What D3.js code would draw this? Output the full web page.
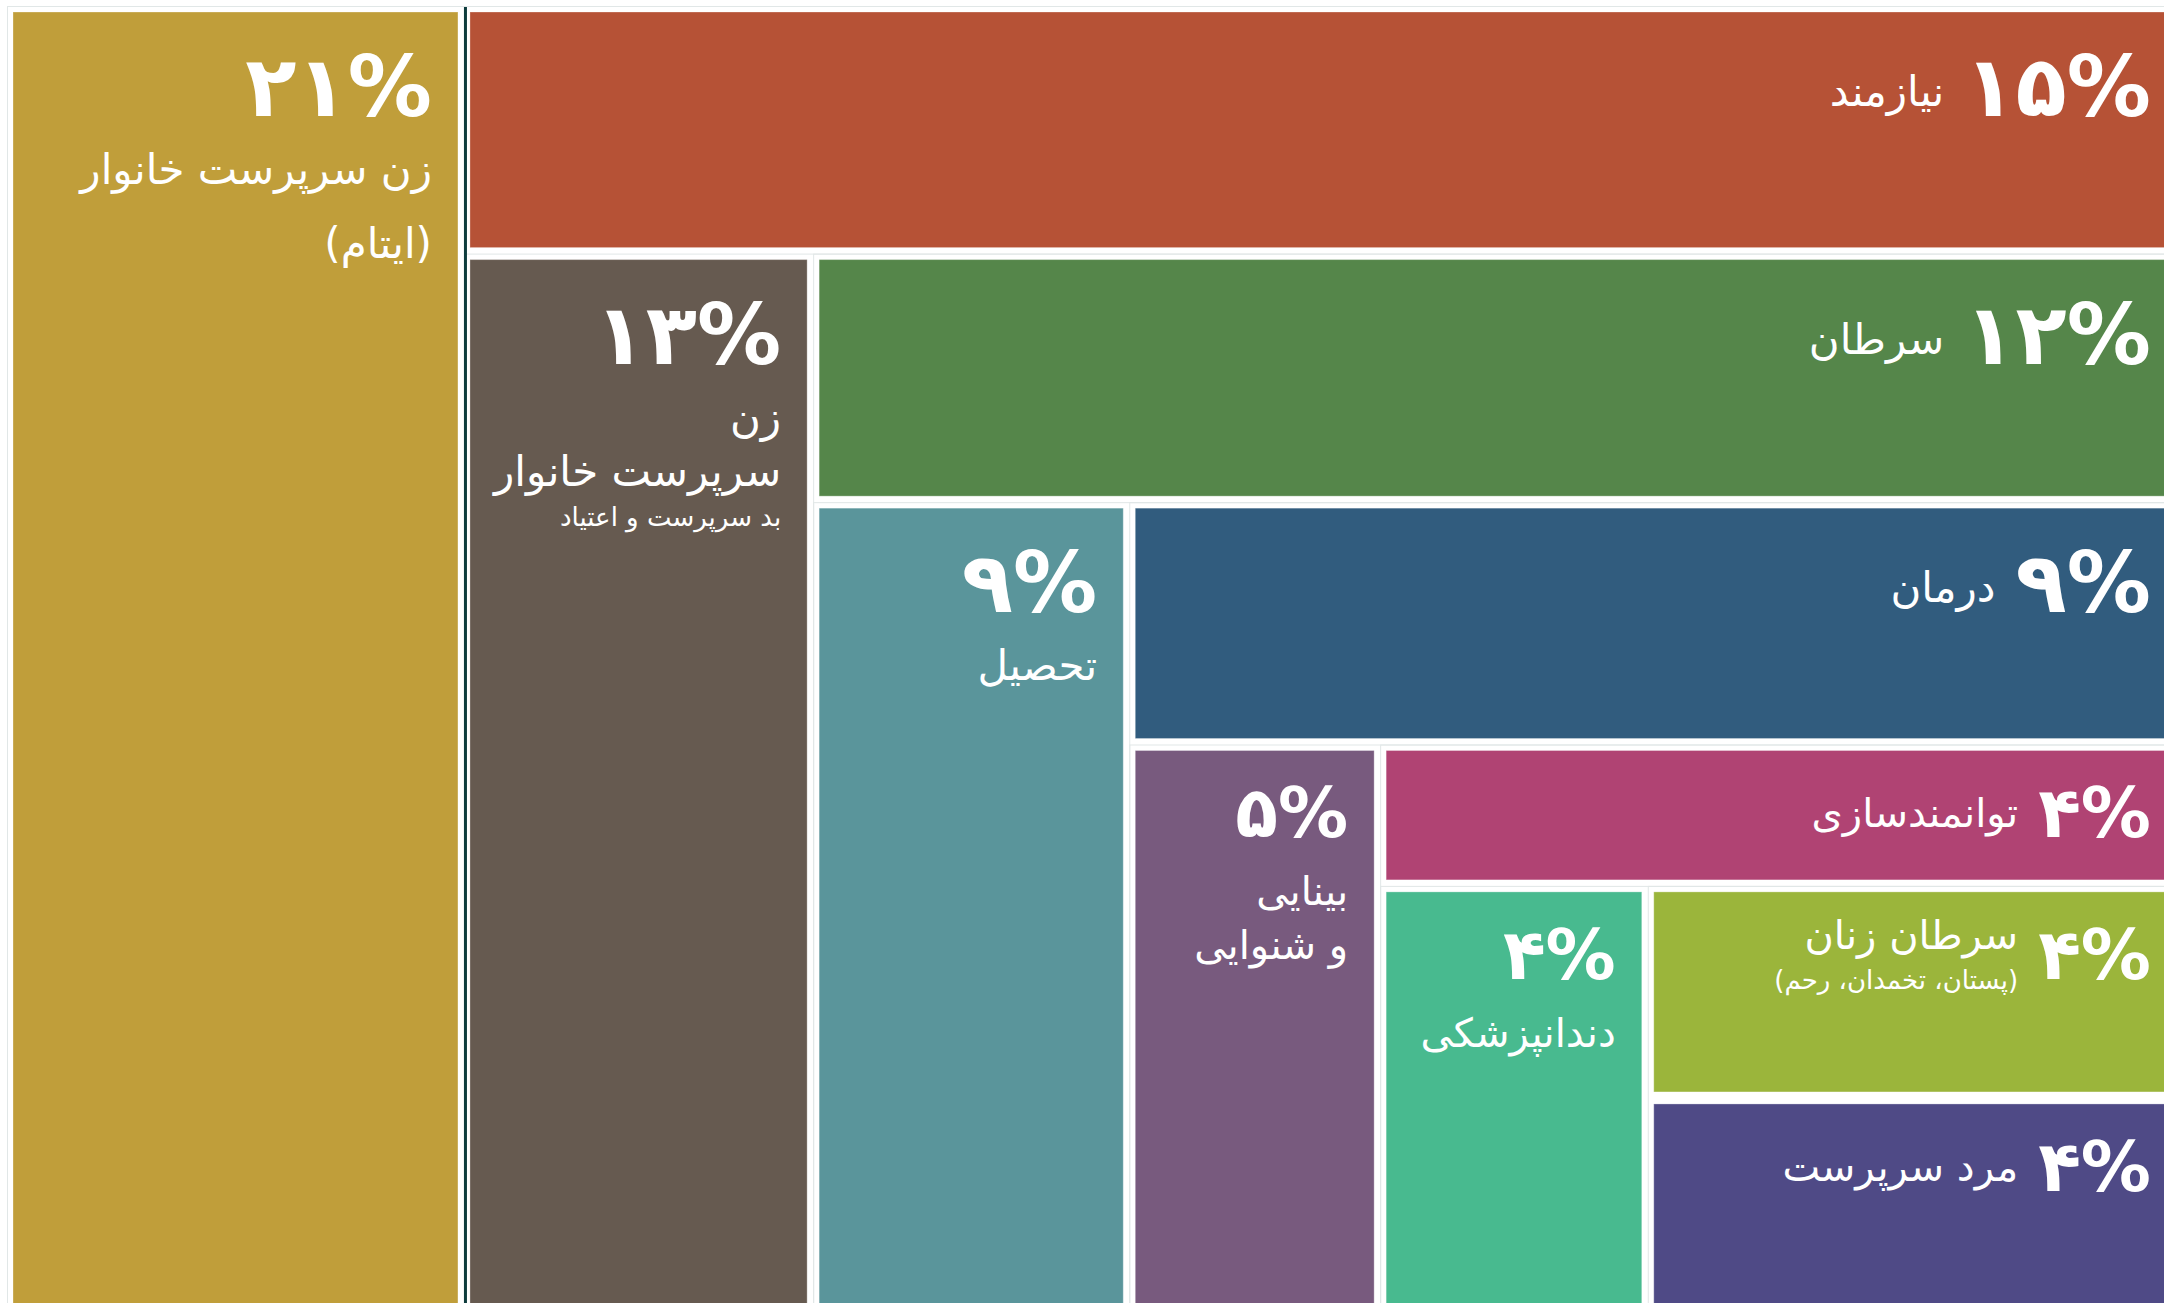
<!DOCTYPE html>
<html lang="fa">
<head>
<meta charset="utf-8">
<script src="https://cdnjs.cloudflare.com/ajax/libs/d3/7.8.5/d3.min.js"></script>
<style>
    body { margin: 0; background: #fff; }
    svg { display: block; }
    text { fill: #fff; }
    .pct { font-family: "DejaVu Sans", sans-serif; font-weight: bold; }
    .lbl { font-family: "DejaVu Sans", sans-serif; font-weight: normal; }
</style>
</head>
<body>
<svg id="treemap"></svg>
<script>
// share of each category (percent), in spiral order
var values = [21, 15, 13, 12, 9, 9, 5, 4, 4, 4, 4];
var labels = [
    ["زن سرپرست خانوار", "(ایتام)"],
    ["نیازمند"],
    ["زن", "سرپرست خانوار"],
    ["سرطان"],
    ["تحصیل"],
    ["درمان"],
    ["بینایی", "و شنوایی"],
    ["توانمندسازی"],
    ["دندانپزشکی"],
    ["سرطان زنان"],
    ["مرد سرپرست"]
];
var subLabels = ["", "", "بد سرپرست و اعتیاد", "", "", "", "", "", "", "(پستان، تخمدان، رحم)", ""];
var colors = ["#c09e3a", "#b65236", "#665a50", "#55864a", "#5a959b", "#315c7e",
    "#785a7e", "#b04373", "#48ba8f", "#9bb53b", "#4f4a86"];

var w = 2164;
var h = 1303;

// persian digits for the percent labels
function faNum(v) {
    return String(v).replace(/[0-9]/g, function (c) { return "۰۱۲۳۴۵۶۷۸۹"[+c]; }) + "%";
}

// nest: every group holds one category and the rest of the list
var leaves = values.map(function (v, i) { return { idx: i, value: v }; });
var tree = { children: [leaves[leaves.length - 2], leaves[leaves.length - 1]] };
for (var i = leaves.length - 3; i >= 0; i--) {
    tree = { children: [leaves[i], tree] };
}

var root = d3.hierarchy(tree).sum(function (d) { return d.value || 0; });

var gap = 12;
d3.treemap()
    .tile(d3.treemapSliceDice)
    .size([w, h - 11])
    .paddingInner(gap)
    .paddingOuter(0)(root);

var svg = d3.select("#treemap")
    .attr("width", w)
    .attr("height", h);

var g = svg.append("g").attr("transform", "translate(13,12)");

// group outlines
g.selectAll("rect.group")
    .data(root.descendants().filter(function (d) { return d.children; }))
    .enter()
    .append("rect")
    .attr("class", "group")
    .attr("x", function (d) { return d.x0 - gap / 2 + 0.5; })
    .attr("y", function (d) { return d.y0 - gap / 2 + 0.5; })
    .attr("width", function (d) { return d.x1 - d.x0 + gap; })
    .attr("height", function (d) { return d.y1 - d.y0 + gap; })
    .style("fill", "none")
    .style("stroke", "#e1e7e7")
    .style("stroke-width", 1);

var cells = g.selectAll("g.cell")
    .data(root.leaves())
    .enter()
    .append("g")
    .attr("class", "cell");

cells.append("rect")
    .attr("x", function (d) { return d.x0; })
    .attr("y", function (d) { return d.y0; })
    .attr("width", function (d) { return d.x1 - d.x0; })
    .attr("height", function (d) { return d.y1 - d.y0; })
    .style("fill", function (d) { return colors[d.data.idx]; })
    .style("stroke", "rgba(255,255,255,0.3)")
    .style("stroke-width", 1);

// separator left of everything but the first category
var rest = root.children[1];
g.append("line")
    .attr("x1", rest.x0 - gap / 2 + 1.5)
    .attr("x2", rest.x0 - gap / 2 + 1.5)
    .attr("y1", rest.y0 - gap / 2 + 1)
    .attr("y2", h)
    .style("stroke", "#0e3c3d")
    .style("stroke-width", 3);

var pad = 26;
cells.each(function (d) {
    var cell = d3.select(this);
    var i = d.data.idx;
    var big = d.data.value >= 9;
    var fs = big ? 84 : 70;
    var lfs = big ? 42 : 40;
    var xr = d.x1 - pad;
    var base = d.y0 + fs * 1.24;

    var pct = cell.append("text")
        .attr("class", "pct")
        .attr("x", xr)
        .attr("y", base)
        .attr("text-anchor", "end")
        .style("font-size", fs + "px")
        .text(faNum(d.data.value));

    var inline = (d.x1 - d.x0) > (d.y1 - d.y0);
    var lx, ly, step = 54;
    if (inline) {
        lx = xr - pct.node().getComputedTextLength() - 20;
        ly = base - 10 - (subLabels[i] ? 20 : 0);
    } else {
        lx = xr;
        ly = base + 68;
    }
    var y = ly;
    labels[i].forEach(function (t, k) {
        // a bracketed line starts a new paragraph
        if (k > 0) y += (t.charAt(0) === "(") ? step + 20 : step;
        cell.append("text")
            .attr("class", "lbl")
            .attr("x", lx)
            .attr("y", y)
            .attr("text-anchor", "end")
            .style("font-size", lfs + "px")
            .text(t);
    });
    if (subLabels[i]) {
        cell.append("text")
            .attr("class", "lbl")
            .attr("x", lx)
            .attr("y", y + 40)
            .attr("text-anchor", "end")
            .style("font-size", "26px")
            .text(subLabels[i]);
    }
});
</script>
</body>
</html>
